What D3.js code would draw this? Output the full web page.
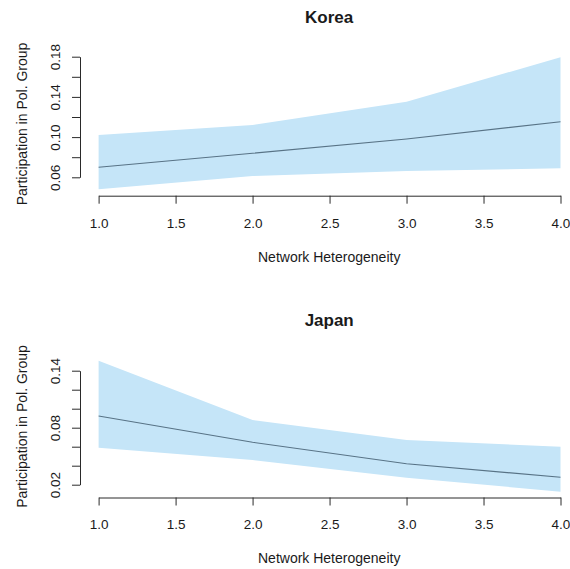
<!DOCTYPE html>
<html>
<head>
<meta charset="utf-8">
<script src="https://cdn.jsdelivr.net/npm/d3@7"></script>
<style>
  html, body { margin: 0; padding: 0; background: #fff; }
  svg { display: block; font-family: "Liberation Sans", Arial, sans-serif; }
</style>
</head>
<body>
<svg id="chart" width="570" height="569"></svg>
<script>
// Predicted participation by network heterogeneity, with confidence bands
const heterogeneity = [1, 2, 3, 4];
const xTicks = [1.0, 1.5, 2.0, 2.5, 3.0, 3.5, 4.0];

const koreaFit   = [0.0700, 0.0839, 0.0981, 0.1153];
const koreaLower = [0.0481, 0.0613, 0.0663, 0.0690];
const koreaUpper = [0.1021, 0.1120, 0.1352, 0.1794];
const koreaTicks  = [0.06, 0.08, 0.10, 0.12, 0.14, 0.16, 0.18];
const koreaLabels = [0.06, 0.10, 0.14, 0.18];

const japanFit   = [0.0923, 0.0646, 0.0421, 0.0278];
const japanLower = [0.0590, 0.0460, 0.0274, 0.0126];
const japanUpper = [0.1505, 0.0881, 0.0670, 0.0600];
const japanTicks  = [0.02, 0.04, 0.06, 0.08, 0.10, 0.12, 0.14];
const japanLabels = [0.02, 0.08, 0.14];

const svg = d3.select("#chart");
const ink = "#1a1a1a";
const axisInk = "#2a2a2a";
const bandFill = "#c5e5f8";
const lineColor = "#587386";

const x = d3.scaleLinear().domain([1, 4]).range([98.6, 560.5]);
const plotLeft = 80, plotRight = 578.4;

function panel(opts) {
  const g = svg.append("g");
  const y = d3.scaleLinear()
    .domain([opts.ticks[0], opts.ticks[opts.ticks.length - 1]])
    .range(opts.tickPx);

  const rows = heterogeneity.map((h, i) => ({
    h, fit: opts.fit[i], lo: opts.lower[i], hi: opts.upper[i]
  }));

  // confidence band
  g.append("path")
    .datum(rows)
    .attr("fill", bandFill)
    .attr("d", d3.area().x(d => x(d.h)).y0(d => y(d.lo)).y1(d => y(d.hi)));

  // fitted line
  g.append("path")
    .datum(rows)
    .attr("fill", "none")
    .attr("stroke", lineColor)
    .attr("stroke-width", 1.1)
    .attr("d", d3.line().x(d => x(d.h)).y(d => y(d.fit)));

  // x axis
  const xa = g.append("g").attr("transform", `translate(0,${opts.xAxisY})`)
    .call(d3.axisBottom(x).tickValues(xTicks).tickSize(8).tickSizeOuter(0)
      .tickFormat(d3.format(".1f")));
  xa.select(".domain").attr("stroke", axisInk);
  xa.selectAll(".tick line").attr("stroke", axisInk);
  xa.selectAll(".tick text")
    .attr("fill", ink).attr("font-size", 13.5)
    .attr("font-family", "Liberation Sans, Arial, sans-serif")
    .attr("dy", null).attr("y", opts.xLabelBase - opts.xAxisY);

  // y axis
  const ya = g.append("g").attr("transform", `translate(${plotLeft},0)`)
    .call(d3.axisLeft(y).tickValues(opts.ticks).tickSize(8).tickSizeOuter(0)
      .tickFormat(d => opts.labels.some(v => Math.abs(v - d) < 1e-9) ? d3.format(".2f")(d) : ""));
  ya.select(".domain").attr("stroke", axisInk);
  ya.selectAll(".tick line").attr("stroke", axisInk);
  ya.selectAll(".tick text")
    .attr("fill", ink).attr("font-size", 13.5)
    .attr("font-family", "Liberation Sans, Arial, sans-serif")
    .attr("x", null).attr("dy", null)
    .attr("text-anchor", "middle")
    .attr("transform", `translate(${60 - plotLeft},0) rotate(-90)`);

  // titles
  g.append("text")
    .attr("x", (plotLeft + plotRight) / 2).attr("y", opts.titleBase)
    .attr("text-anchor", "middle").attr("font-weight", "bold")
    .attr("font-size", 17).attr("fill", ink)
    .text(opts.title);

  g.append("text")
    .attr("x", (plotLeft + plotRight) / 2).attr("y", opts.xTitleBase)
    .attr("text-anchor", "middle").attr("font-size", 14).attr("fill", ink)
    .text("Network Heterogeneity");

  g.append("text")
    .attr("transform", `translate(26.5,${opts.yTitleCenter}) rotate(-90)`)
    .attr("text-anchor", "middle").attr("font-size", 14).attr("fill", ink)
    .text("Participation in Pol. Group");
}

panel({
  title: "Korea", fit: koreaFit, lower: koreaLower, upper: koreaUpper,
  ticks: koreaTicks, labels: koreaLabels, tickPx: [177.3, 56.7],
  xAxisY: 195.7, xLabelBase: 227.7, xTitleBase: 262, titleBase: 22.7, yTitleCenter: 124
});

panel({
  title: "Japan", fit: japanFit, lower: japanLower, upper: japanUpper,
  ticks: japanTicks, labels: japanLabels, tickPx: [484.7, 370.7],
  xAxisY: 497.5, xLabelBase: 529, xTitleBase: 563, titleBase: 325.5, yTitleCenter: 426.5
});
</script>
</body>
</html>
